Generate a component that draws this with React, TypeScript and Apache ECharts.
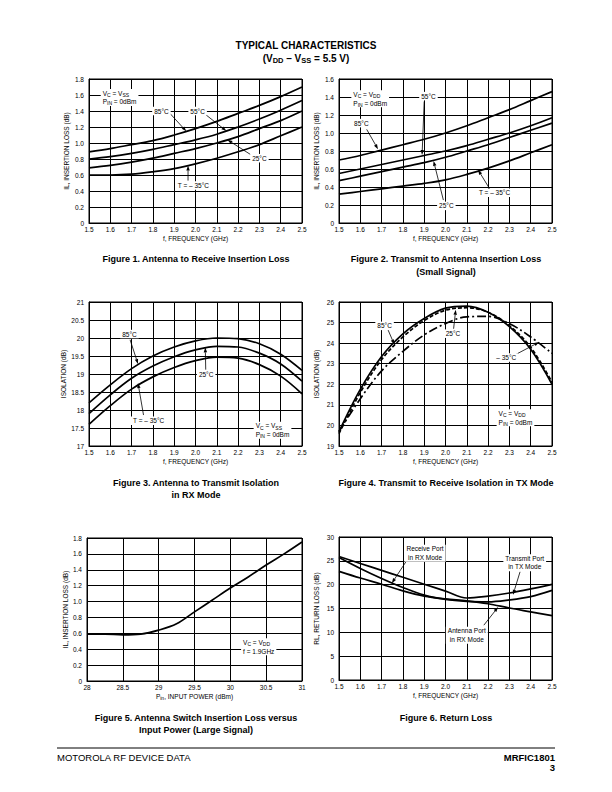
import React, { useEffect, useRef } from "react";
import * as echarts from "echarts";

const FONT = '"Liberation Sans", Arial, Helvetica, sans-serif';

// ---- data ----
const FREQ_GHZ = [1.5, 1.6, 1.7, 1.8, 1.9, 2.0, 2.1, 2.2, 2.3, 2.4, 2.5];

// Figure 1: antenna to receive insertion loss (dB)
const FIG1_85C = [0.89, 0.93, 0.98, 1.03, 1.1, 1.18, 1.27, 1.37, 1.47, 1.58, 1.7];
const FIG1_55C = [0.8, 0.83, 0.87, 0.92, 0.98, 1.04, 1.11, 1.2, 1.3, 1.41, 1.53];
const FIG1_25C = [0.69, 0.72, 0.76, 0.81, 0.87, 0.93, 1.0, 1.08, 1.18, 1.28, 1.4];
const FIG1_M35C = [0.6, 0.6, 0.61, 0.64, 0.68, 0.74, 0.81, 0.89, 0.98, 1.09, 1.2];

// Figure 2: transmit to antenna insertion loss (dB)
const FIG2_85C = [0.7, 0.75, 0.81, 0.87, 0.93, 1.0, 1.08, 1.17, 1.26, 1.36, 1.46];
const FIG2_55C = [0.55, 0.6, 0.65, 0.7, 0.75, 0.8, 0.86, 0.93, 1.0, 1.08, 1.17];
const FIG2_25C = [0.47, 0.52, 0.57, 0.62, 0.67, 0.73, 0.8, 0.87, 0.95, 1.03, 1.11];
const FIG2_M35C = [0.32, 0.35, 0.38, 0.41, 0.44, 0.48, 0.54, 0.61, 0.69, 0.78, 0.87];

// Figure 3: antenna to transmit isolation in RX mode (dB)
const FIG3_85C = [18.2, 18.7, 19.15, 19.5, 19.75, 19.92, 20.0, 19.98, 19.84, 19.55, 19.1];
const FIG3_25C = [17.9, 18.42, 18.88, 19.22, 19.48, 19.67, 19.77, 19.75, 19.58, 19.28, 18.8];
const FIG3_M35C = [17.6, 18.12, 18.58, 18.92, 19.18, 19.37, 19.47, 19.44, 19.26, 18.94, 18.45];

// Figure 4: transmit to receive isolation in TX mode (dB)
const FIG4_85C = [19.7, 21.75, 23.35, 24.45, 25.2, 25.7, 25.8, 25.5, 24.8, 23.7, 22.0];
const FIG4_25C = [19.6, 21.6, 23.2, 24.3, 25.1, 25.6, 25.72, 25.5, 24.85, 23.8, 22.1];
const FIG4_M35C = [19.7, 21.3, 22.65, 23.6, 24.4, 24.95, 25.28, 25.3, 24.95, 24.3, 23.5];

// Figure 5: insertion loss vs input power
const PIN_DBM = [28, 28.25, 28.5, 28.75, 29, 29.25, 29.5, 29.75, 30, 30.25, 30.5, 30.75, 31];
const FIG5_IL = [0.59, 0.59, 0.58, 0.59, 0.64, 0.72, 0.87, 1.02, 1.17, 1.31, 1.46, 1.6, 1.75];

// Figure 6: return loss (dB)
const FIG6_RX_PORT = [25.7, 23.4, 21.3, 19.4, 17.8, 16.9, 16.5, 16.4, 16.8, 17.5, 18.8];
const FIG6_TX_PORT = [25.9, 24.45, 23.0, 21.55, 20.1, 18.65, 17.2, 17.6, 18.25, 19.1, 20.05];
const FIG6_ANT_PORT = [22.8, 21.4, 20.1, 18.7, 17.6, 17.0, 16.6, 16.0, 15.1, 14.3, 13.5];

// ---- layout ----
const GRIDS = [
  { left: 89, top: 79, width: 213, height: 144 },
  { left: 339, top: 79, width: 213, height: 144 },
  { left: 89, top: 302, width: 213, height: 144 },
  { left: 339, top: 302, width: 213, height: 144 },
  { left: 87, top: 538, width: 215, height: 143 },
  { left: 339, top: 537, width: 213, height: 143 },
];

const TXT = { color: "#000", fontFamily: FONT, fontSize: 6.5 };
const SUB_RICH = {
  s: { fontFamily: FONT, fontSize: 5, color: "#000", verticalAlign: "bottom", lineHeight: 5 },
};

const fmt1 = (v: number) => (v === 0 ? "0" : v.toFixed(1));
const fmtG = (v: number) => String(Math.round(v * 100) / 100);

function mkX(g: number, min: number, max: number, interval: number, name: string, formatter: any) {
  return {
    type: "value",
    gridIndex: g,
    min,
    max,
    interval,
    name,
    nameLocation: "middle",
    nameGap: 12,
    nameTextStyle: { ...TXT, rich: SUB_RICH },
    axisLine: { show: true, onZero: false, lineStyle: { color: "#000", width: 1 } },
    axisTick: { show: false },
    axisLabel: { ...TXT, margin: 3, formatter },
    splitLine: { show: true, lineStyle: { color: "#000", width: 1 } },
  };
}
function mkY(g: number, min: number, max: number, interval: number, name: string, formatter: any, gap = 19) {
  return {
    type: "value",
    gridIndex: g,
    min,
    max,
    interval,
    name,
    nameLocation: "middle",
    nameGap: gap,
    nameRotate: 90,
    nameTextStyle: { ...TXT },
    axisLine: { show: true, onZero: false, lineStyle: { color: "#000", width: 1 } },
    axisTick: { show: false },
    axisLabel: { ...TXT, margin: 5, formatter },
    splitLine: { show: true, lineStyle: { color: "#000", width: 1 } },
  };
}
function curve(g: number, xs: number[], ys: number[], dash: any = "solid") {
  return {
    type: "line",
    xAxisIndex: g,
    yAxisIndex: g,
    data: xs.map((x, i) => [x, ys[i]]),
    smooth: 0.35,
    symbol: "none",
    silent: true,
    lineStyle: { color: "#000", width: 1.7, type: dash },
    z: 5,
  };
}

type Ann = {
  g: number;
  text: string;
  at: [number, number];
  align?: string;
  from?: [number, number];
  tip?: [number, number];
};

const ANNOTATIONS: Ann[] = [
  { g: 0, text: "V{s|C} = V{s|SS}\nP{s|IN} = 0dBm", at: [1.555, 1.57], align: "left" },
  { g: 0, text: "85°C", at: [1.84, 1.4], from: [1.88, 1.37], tip: [1.957, 1.146] },
  { g: 0, text: "55°C", at: [2.01, 1.4], from: [2.05, 1.35], tip: [2.145, 1.151] },
  { g: 0, text: "25°C", at: [2.3, 0.81], from: [2.262, 0.85], tip: [2.15, 1.04] },
  { g: 0, text: "T = – 35°C", at: [1.99, 0.47], from: [1.965, 0.53], tip: [1.965, 0.72] },

  { g: 1, text: "V{s|C} = V{s|DD}\nP{s|IN} = 0dBm", at: [1.558, 1.38], align: "left" },
  { g: 1, text: "55°C", at: [1.92, 1.41], from: [1.9, 1.35], tip: [1.89, 0.755] },
  { g: 1, text: "85°C", at: [1.605, 1.11], from: [1.63, 1.04], tip: [1.683, 0.82] },
  { g: 1, text: "25°C", at: [2.004, 0.19], from: [1.99, 0.255], tip: [1.944, 0.69] },
  { g: 1, text: "T = – 35°C", at: [2.23, 0.335], from: [2.21, 0.37], tip: [2.153, 0.59] },

  { g: 2, text: "85°C", at: [1.69, 20.11], from: [1.693, 19.95], tip: [1.73, 19.28] },
  { g: 2, text: "25°C", at: [2.05, 18.98], from: [2.048, 19.12], tip: [2.046, 19.74] },
  { g: 2, text: "T = – 35°C", at: [1.78, 17.7], from: [1.756, 17.86], tip: [1.73, 18.75] },
  { g: 2, text: "V{s|C} = V{s|SS}\nP{s|IN} = 0dBm", at: [2.273, 17.44], align: "left" },

  { g: 3, text: "85°C", at: [1.714, 24.84], from: [1.73, 24.65], tip: [1.76, 23.93] },
  { g: 3, text: "25°C", at: [2.035, 24.46], from: [2.038, 24.7], tip: [2.048, 25.62] },
  { g: 3, text: "– 35°C", at: [2.285, 23.3], from: [2.33, 23.45], tip: [2.44, 24.05] },
  { g: 3, text: "V{s|C} = V{s|DD}\nP{s|IN} = 0dBm", at: [2.24, 20.37], align: "left" },

  { g: 4, text: "V{s|C} = V{s|DD}\nf = 1.9GHz", at: [30.15, 0.43], align: "left" },

  { g: 5, text: "Receive Port\nin RX Mode", at: [1.904, 26.6], from: [1.82, 25.2], tip: [1.748, 20.3] },
  { g: 5, text: "Transmit Port\nin TX Mode", at: [2.372, 24.6], from: [2.35, 22.7], tip: [2.317, 17.9] },
  { g: 5, text: "Antenna Port\nin RX Mode", at: [2.1, 9.4], from: [2.18, 11.5], tip: [2.247, 15.3] },
];

function baseOption(): any {
  return {
    animation: false,
    backgroundColor: "#fff",
    textStyle: { fontFamily: FONT },
    grid: GRIDS.map((g) => ({ ...g, show: true, borderColor: "#000", borderWidth: 1, containLabel: false })),
    xAxis: [
      mkX(0, 1.5, 2.5, 0.1, "f, FREQUENCY (GHz)", fmt1),
      mkX(1, 1.5, 2.5, 0.1, "f, FREQUENCY (GHz)", fmt1),
      mkX(2, 1.5, 2.5, 0.1, "f, FREQUENCY (GHz)", fmt1),
      mkX(3, 1.5, 2.5, 0.1, "f, FREQUENCY (GHz)", fmt1),
      mkX(4, 28, 31, 0.5, "P{s|in}, INPUT POWER (dBm)", fmtG),
      mkX(5, 1.5, 2.5, 0.1, "f, FREQUENCY (GHz)", fmt1),
    ],
    yAxis: [
      mkY(0, 0, 1.8, 0.2, "IL, INSERTION LOSS (dB)", fmt1),
      mkY(1, 0, 1.6, 0.2, "IL, INSERTION LOSS (dB)", fmt1),
      mkY(2, 17, 21, 0.5, "ISOLATION (dB)", fmtG),
      mkY(3, 19, 26, 1, "ISOLATION (dB)", fmtG),
      mkY(4, 0, 1.8, 0.2, "IL, INSERTION LOSS (dB)", fmt1, 17),
      mkY(5, 0, 30, 5, "RL, RETURN LOSS (dB)", fmtG),
    ],
    series: [
      curve(0, FREQ_GHZ, FIG1_85C),
      curve(0, FREQ_GHZ, FIG1_55C),
      curve(0, FREQ_GHZ, FIG1_25C),
      curve(0, FREQ_GHZ, FIG1_M35C),
      curve(1, FREQ_GHZ, FIG2_85C),
      curve(1, FREQ_GHZ, FIG2_55C),
      curve(1, FREQ_GHZ, FIG2_25C),
      curve(1, FREQ_GHZ, FIG2_M35C),
      curve(2, FREQ_GHZ, FIG3_85C),
      curve(2, FREQ_GHZ, FIG3_25C),
      curve(2, FREQ_GHZ, FIG3_M35C),
      curve(3, FREQ_GHZ, FIG4_85C),
      curve(3, FREQ_GHZ, FIG4_25C, [4, 2]),
      curve(3, FREQ_GHZ, FIG4_M35C, [9, 3, 2, 3]),
      curve(4, PIN_DBM, FIG5_IL),
      curve(5, FREQ_GHZ, FIG6_RX_PORT),
      curve(5, FREQ_GHZ, FIG6_TX_PORT),
      curve(5, FREQ_GHZ, FIG6_ANT_PORT),
    ],
  };
}

function textEl(text: string, x: number, y: number, opts: any = {}) {
  return {
    type: "text",
    x,
    y,
    z: 100,
    silent: true,
    style: {
      text,
      fill: "#000",
      fontFamily: FONT,
      fontSize: opts.fontSize ?? 6.5,
      fontWeight: opts.fontWeight ?? "normal",
      align: opts.align ?? "center",
      verticalAlign: "middle",
      lineHeight: opts.lineHeight ?? 8.5,
      backgroundColor: opts.bg,
      padding: opts.padding,
      rich: opts.rich,
    },
  };
}

function buildGraphic(chart: any) {
  const els: any[] = [];
  const boldRich = {
    s: { fontFamily: FONT, fontSize: 7.5, fontWeight: "bold", color: "#000", verticalAlign: "bottom", lineHeight: 7 },
  };
  els.push(textEl("TYPICAL CHARACTERISTICS", 306, 45, { fontSize: 10, fontWeight: "bold", lineHeight: 13 }));
  els.push(
    textEl("(V{s|DD} – V{s|SS} = 5.5 V)", 306, 58, { fontSize: 10, fontWeight: "bold", lineHeight: 13, rich: boldRich })
  );
  const cap = (t: string, x: number, y: number) => els.push(textEl(t, x, y, { fontSize: 9, fontWeight: "bold", lineHeight: 11 }));
  cap("Figure 1. Antenna to Receive Insertion Loss", 196, 259);
  cap("Figure 2. Transmit to Antenna Insertion Loss", 446, 259);
  cap("(Small Signal)", 446, 272);
  cap("Figure 3. Antenna to Transmit Isolation", 196, 483);
  cap("in RX Mode", 196, 495);
  cap("Figure 4. Transmit to Receive Isolation in TX Mode", 446, 483);
  cap("Figure 5. Antenna Switch Insertion Loss versus", 196, 718);
  cap("Input Power (Large Signal)", 196, 730);
  cap("Figure 6. Return Loss", 446, 718);

  // footer
  els.push({ type: "line", z: 100, silent: true, shape: { x1: 57, y1: 748, x2: 555, y2: 748 }, style: { stroke: "#000", lineWidth: 1 } });
  els.push(textEl("MOTOROLA RF DEVICE DATA", 57, 757, { fontSize: 9.5, align: "left", lineHeight: 11 }));
  els.push(textEl("MRFIC1801", 555, 757, { fontSize: 9.5, fontWeight: "bold", align: "right", lineHeight: 11 }));
  els.push(textEl("3", 555, 767, { fontSize: 9.5, fontWeight: "bold", align: "right", lineHeight: 11 }));

  for (const a of ANNOTATIONS) {
    const p = chart.convertToPixel({ gridIndex: a.g }, a.at);
    if (a.from && a.tip) {
      const s = chart.convertToPixel({ gridIndex: a.g }, a.from);
      const t = chart.convertToPixel({ gridIndex: a.g }, a.tip);
      const dx = t[0] - s[0];
      const dy = t[1] - s[1];
      const len = Math.sqrt(dx * dx + dy * dy) || 1;
      const ux = dx / len;
      const uy = dy / len;
      const L = 5;
      const W = 1.7;
      const bx = t[0] - ux * L;
      const by = t[1] - uy * L;
      els.push({
        type: "line",
        z: 90,
        silent: true,
        shape: { x1: s[0], y1: s[1], x2: bx, y2: by },
        style: { stroke: "#000", lineWidth: 0.8 },
      });
      els.push({
        type: "polygon",
        z: 90,
        silent: true,
        shape: {
          points: [
            [t[0], t[1]],
            [bx - uy * W, by + ux * W],
            [bx + uy * W, by - ux * W],
          ],
        },
        style: { fill: "#000" },
      });
    }
    els.push(
      textEl(a.text, p[0], p[1], {
        align: a.align ?? "center",
        bg: "#fff",
        padding: [0, 2, 0, 2],
        rich: SUB_RICH,
      })
    );
  }
  return els;
}

export default function App() {
  const ref = useRef<HTMLDivElement>(null);
  useEffect(() => {
    if (!ref.current) return;
    const chart = echarts.init(ref.current, null, { renderer: "svg", width: 612, height: 792 });
    chart.setOption(baseOption());
    chart.setOption({ graphic: buildGraphic(chart) });
    return () => chart.dispose();
  }, []);
  return (
    <div
      ref={ref}
      style={{ position: "absolute", left: 0, top: 0, width: 612, height: 792, background: "#fff" }}
    />
  );
}
